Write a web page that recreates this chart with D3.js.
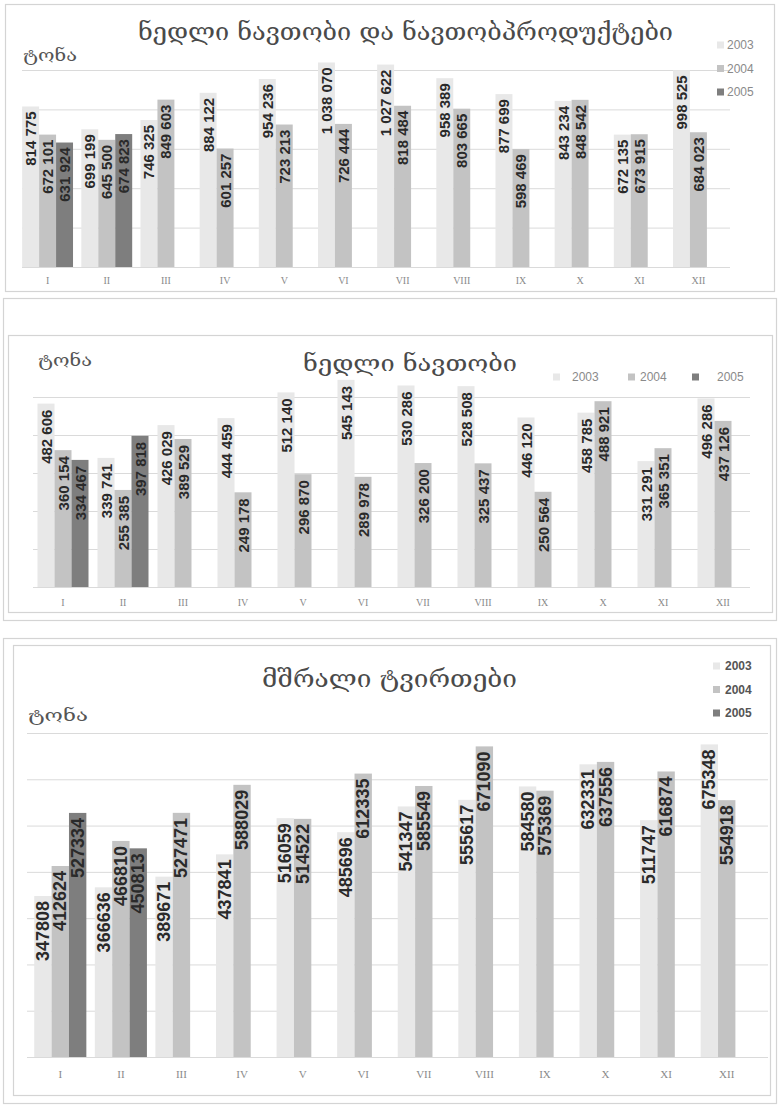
<!DOCTYPE html>
<html><head><meta charset="utf-8">
<script src="https://cdn.jsdelivr.net/npm/d3@7"></script>
<style>
html,body{margin:0;padding:0;background:#fff;}
svg{display:block;}
</style></head>
<body>
<svg id="c" width="779" height="1105"></svg>
<script>
// ---------- DATA ----------
const months = ["I","II","III","IV","V","VI","VII","VIII","IX","X","XI","XII"];
const years = ["2003","2004","2005"];

// Panel 1: crude oil and oil products (tonnes)
const oilProducts2003 = [814775, 699199, 746325, 884122, 954236, 1038070, 1027622, 958389, 877699, 843234, 672135, 998525];
const oilProducts2004 = [672101, 645500, 849603, 601257, 723213, 726444, 818484, 803665, 598469, 848542, 673915, 684023];
const oilProducts2005 = [631924, 674823, null, null, null, null, null, null, null, null, null, null];
const oilProductsTicks = [0, 200000, 400000, 600000, 800000, 1000000];

// Panel 2: crude oil (tonnes)
const crudeOil2003 = [482606, 339741, 426029, 444459, 512140, 545143, 530286, 528508, 446120, 458785, 331291, 496286];
const crudeOil2004 = [360154, 255385, 389529, 249178, 296870, 289978, 326200, 325437, 250564, 488921, 365351, 437126];
const crudeOil2005 = [334467, 397818, null, null, null, null, null, null, null, null, null, null];
const crudeOilTicks = [0, 100000, 200000, 300000, 400000, 500000];

// Panel 3: dry cargo (tonnes)
const dryCargo2003 = [347808, 366636, 389671, 437841, 516059, 485696, 541347, 555617, 584580, 632331, 511747, 675348];
const dryCargo2004 = [412624, 466810, 527471, 588029, 514522, 612335, 585549, 671090, 575369, 637556, 616874, 554918];
const dryCargo2005 = [527334, 450813, null, null, null, null, null, null, null, null, null, null];
const dryCargoTicks = [0, 100000, 200000, 300000, 400000, 500000, 600000, 700000];

const titles = ["ნედლი ნავთობი და ნავთობპროდუქტები", "ნედლი ნავთობი", "მშრალი ტვირთები"];
const unitLabel = "ტონა";

// ---------- STYLE ----------
const colors = {"2003":"#e8e8e8","2004":"#c3c3c3","2005":"#7e7e7e"};
const geoFont = "'DejaVu Serif','DejaVu Sans',serif";
const svg = d3.select("#c");

function frame(x,y,w,h){
  svg.append("rect").attr("x",x+0.5).attr("y",y+0.5).attr("width",w).attr("height",h)
    .attr("fill","none").attr("stroke","#d4d4d4").attr("stroke-width",1.2);
}

function drawPanel(cfg, series, ticks){
  const g = svg.append("g");
  const x0 = d3.scaleBand().domain(months).range(cfg.xr).paddingInner(cfg.pad).paddingOuter(cfg.pad/2);
  const x1 = d3.scaleBand().domain(years).range([0, x0.bandwidth()]);
  const y = d3.scaleLinear().domain([0, cfg.ymax]).range([cfg.base, cfg.top]);

  // gridlines
  const yAxis = d3.axisLeft(y).tickValues(ticks).tickSize(-(cfg.gx[1]-cfg.gx[0])).tickFormat("");
  const ga = g.append("g").attr("transform",`translate(${cfg.gx[1]},0)`).call(yAxis);
  ga.select(".domain").remove();
  ga.selectAll(".tick line").attr("stroke","#dadada").attr("stroke-width",1);
  ga.attr("transform",`translate(${cfg.gx[0]},0)`);
  ga.call(d3.axisLeft(y).tickValues(ticks).tickSize(-(cfg.gx[1]-cfg.gx[0])).tickFormat(""));
  ga.select(".domain").remove();
  ga.selectAll(".tick line").attr("stroke","#dadada").attr("stroke-width",1);

  // bars
  const rows = [];
  months.forEach((m,i)=>years.forEach((yr,j)=>{
    const v = series[j][i];
    if(v!==null && v!==undefined) rows.push({m,yr,v});
  }));
  g.selectAll("rect.bar").data(rows).enter().append("rect").attr("class","bar")
    .attr("x",d=>x0(d.m)+x1(d.yr)).attr("width",x1.bandwidth())
    .attr("y",d=>y(d.v)).attr("height",d=>y(0)-y(d.v))
    .attr("fill",d=>colors[d.yr]);

  // labels
  const fmt = cfg.sep ? (v=>d3.format(",")(v).replace(/,/g," ")) : d3.format("d");
  g.selectAll("text.lbl").data(rows).enter().append("text").attr("class","lbl")
    .attr("transform",d=>`translate(${x0(d.m)+x1(d.yr)+x1.bandwidth()/2},${y(d.v)+cfg.lpad}) rotate(-90)`)
    .attr("text-anchor","end").attr("dominant-baseline","central")
    .attr("font-family",cfg.lfont).attr("font-weight","bold").attr("font-size",cfg.lsize)
    .attr("fill","#2a2a2a").text(d=>fmt(d.v));

  // x axis labels
  const xa = d3.axisBottom(x0).tickSize(0).tickPadding(0);
  const gx = g.append("g").attr("transform",`translate(0,${cfg.xlabY})`).call(xa);
  gx.select(".domain").remove();
  gx.selectAll("text").attr("font-family","'Liberation Serif','Times New Roman',serif")
    .attr("font-size",cfg.xsize).attr("fill","#8a8a8a").attr("dy","0");

  // title
  g.append("text").attr("x",cfg.title.x).attr("y",cfg.title.y).attr("font-family",geoFont)
    .attr("font-size",cfg.title.size).attr("fill","#4a4a4a")
    .attr("textLength",cfg.title.len).attr("lengthAdjust","spacingAndGlyphs").text(cfg.title.t);
  // unit
  g.append("text").attr("x",cfg.unit.x).attr("y",cfg.unit.y).attr("font-family",geoFont)
    .attr("font-size",cfg.unit.size).attr("fill","#555")
    .attr("textLength",cfg.unit.len).attr("lengthAdjust","spacingAndGlyphs").text(unitLabel);

  // legend
  const lg = g.append("g");
  years.forEach((yr,j)=>{
    const p = cfg.legend(j);
    lg.append("rect").attr("x",p.x).attr("y",p.y-3.5).attr("width",7).attr("height",7).attr("fill",colors[yr]);
    lg.append("text").attr("x",p.x+p.gap).attr("y",p.y).attr("dominant-baseline","central")
      .attr("font-family","'Liberation Sans',Arial,sans-serif").attr("font-size",cfg.legSize)
      .attr("font-weight",cfg.legBold?"bold":"normal")
      .attr("fill",cfg.legColor).text(yr);
  });
}

// frames
frame(5,4,769,287);
frame(3,298,773,322);
frame(8,335,764,277);
frame(3,638,773,465);
frame(13,645,757,450);

drawPanel({
  xr:[18,728], gx:[22,730], pad:0.14, ymax:1000000, base:267, top:70,
  sep:true, lfont:"'Liberation Sans',Arial,sans-serif", lsize:15, lpad:5,
  xlabY:284, xsize:10,
  title:{x:138,y:40,size:24,len:535,t:titles[0]},
  unit:{x:23,y:61,size:16,len:54},
  legend:j=>({x:717,y:45+j*23.5,gap:10}), legSize:12, legColor:"#8a8a8a", legBold:false
}, [oilProducts2003, oilProducts2004, oilProducts2005], oilProductsTicks);

drawPanel({
  xr:[33,753], gx:[33,750], pad:0.15, ymax:500000, base:587, top:397,
  sep:true, lfont:"'Liberation Sans',Arial,sans-serif", lsize:15, lpad:6,
  xlabY:606, xsize:10,
  title:{x:303,y:371,size:22,len:214,t:titles[1]},
  unit:{x:38,y:366,size:16,len:54},
  legend:j=>[{x:553,y:377,gap:19},{x:628,y:377,gap:12},{x:692,y:377,gap:25}][j],
  legSize:12, legColor:"#8a8a8a", legBold:false
}, [crudeOil2003, crudeOil2004, crudeOil2005], crudeOilTicks);

drawPanel({
  xr:[30,757], gx:[27,768], pad:0.14, ymax:700000, base:1057, top:733,
  sep:false, lfont:"'Liberation Sans Narrow','Liberation Sans',Arial,sans-serif", lsize:18, lpad:5,
  xlabY:1078, xsize:11,
  title:{x:262,y:687,size:24,len:255,t:titles[2]},
  unit:{x:28,y:721,size:16,len:60},
  legend:j=>({x:713,y:666+j*23.5,gap:12}), legSize:12, legColor:"#555", legBold:true
}, [dryCargo2003, dryCargo2004, dryCargo2005], dryCargoTicks);
</script>
</body></html>
